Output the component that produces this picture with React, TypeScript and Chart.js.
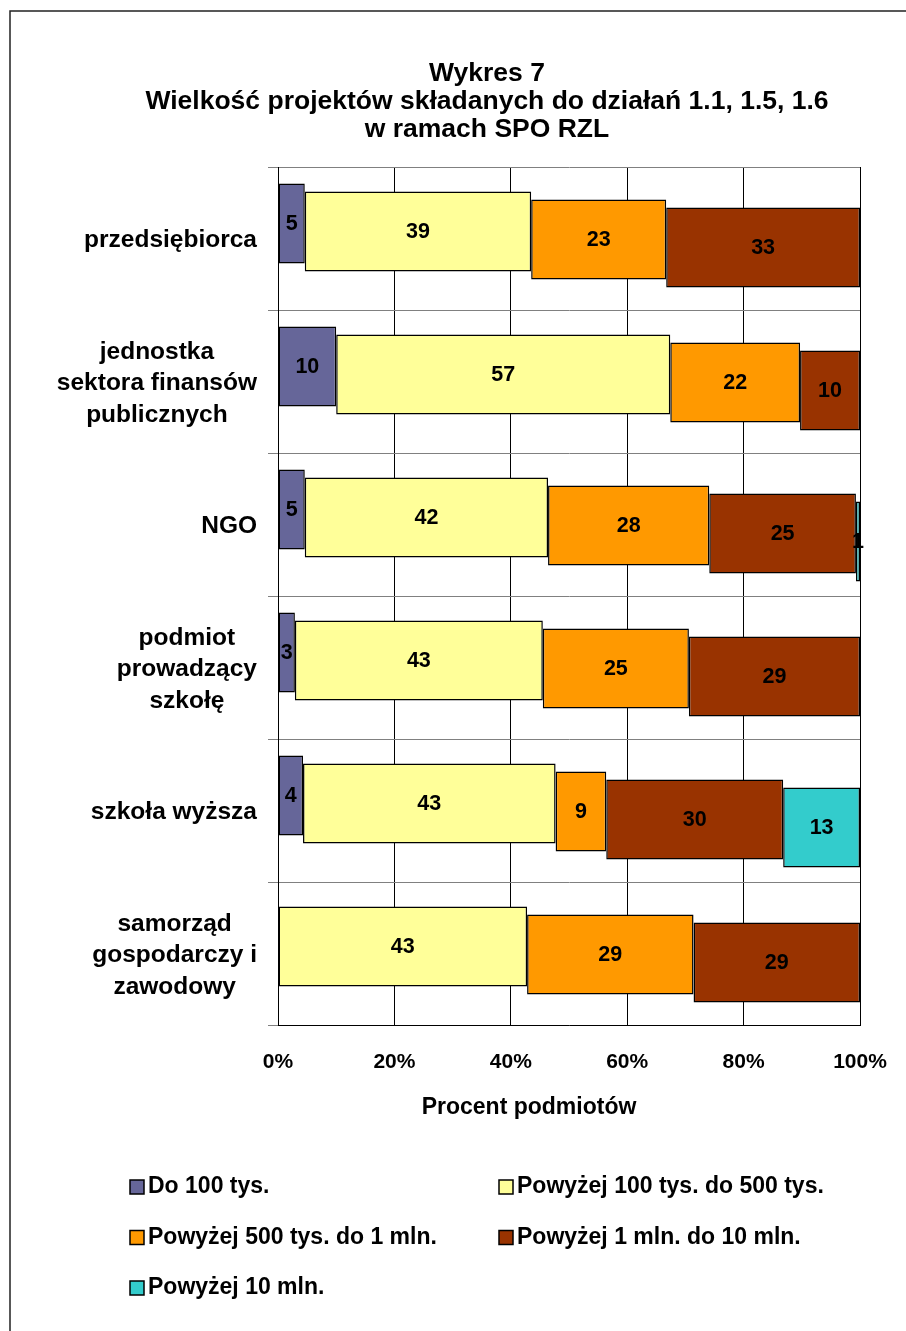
import React, { useEffect, useRef } from 'react';
import { Chart, registerables } from 'chart.js';

Chart.register(...registerables);

const FONT = '"Liberation Sans", Arial, Helvetica, sans-serif';

const TITLE_LINES = [
  'Wykres 7',
  'Wielkość projektów składanych do działań 1.1, 1.5, 1.6',
  'w ramach SPO RZL',
];
const CATEGORIES = [
  ['przedsiębiorca'],
  ['jednostka', 'sektora finansów', 'publicznych'],
  ['NGO'],
  ['podmiot', 'prowadzący', 'szkołę'],
  ['szkoła wyższa'],
  ['samorząd', 'gospodarczy i', 'zawodowy'],
];
const SERIES_NAMES = [
  'Do 100 tys.',
  'Powyżej 100 tys. do 500 tys.',
  'Powyżej 500 tys. do 1 mln.',
  'Powyżej 1 mln. do 10 mln.',
  'Powyżej 10 mln.',
];
const SERIES_COLORS = ['#666699', '#FFFF99', '#FF9900', '#993300', '#33CCCC'];

const DO_100 = [4.6, 10.0, 4.6, 2.9, 4.3, 0];
const OD_100_DO_500 = [38.9, 57.4, 41.8, 42.6, 43.4, 42.8];
const OD_500_DO_1M = [23.2, 22.3, 27.7, 25.1, 8.7, 28.6];
const OD_1M_DO_10M = [33.3, 10.3, 25.2, 29.4, 30.4, 28.6];
const POWYZEJ_10M = [0, 0, 0.7, 0, 13.2, 0];

const X_TICKS = [0, 20, 40, 60, 80, 100];
const X_TITLE = 'Procent podmiotów';

const SERIES = [DO_100, OD_100_DO_500, OD_500_DO_1M, OD_1M_DO_10M, POWYZEJ_10M];

function drawText(ctx: CanvasRenderingContext2D, text: string, x: number, y: number, size: number, align: CanvasTextAlign, sx = 1) {
  ctx.save();
  ctx.font = `bold ${size}px ${FONT}`;
  ctx.fillStyle = '#000';
  ctx.textBaseline = 'middle';
  ctx.textAlign = align;
  ctx.translate(x, y);
  ctx.scale(sx, 1);
  ctx.fillText(text, 0, 0);
  ctx.restore();
}

const backgroundPlugin = {
  id: 'bgFrame',
  beforeDraw(chart: any) {
    const ctx = chart.ctx as CanvasRenderingContext2D;
    ctx.save();
    ctx.fillStyle = '#fff';
    ctx.fillRect(0, 0, chart.width, chart.height);
    ctx.strokeStyle = '#222';
    ctx.lineWidth = 1.5;
    ctx.beginPath();
    ctx.moveTo(10, chart.height + 5);
    ctx.lineTo(10, 11);
    ctx.lineTo(chart.width + 5, 11);
    ctx.stroke();
    ctx.restore();
  },
};

const staggerPlugin = {
  id: 'stagger',
  afterDatasetsUpdate(chart: any) {
    chart.data.datasets.forEach((_ds: any, i: number) => {
      const meta = chart.getDatasetMeta(i);
      meta.data.forEach((el: any) => {
        el.y = el.y + (i - 2) * 8 + 1;
      });
    });
  },
};

const labelsPlugin = {
  id: 'valueLabels',
  afterDatasetsDraw(chart: any) {
    const ctx = chart.ctx as CanvasRenderingContext2D;
    chart.data.datasets.forEach((_ds: any, i: number) => {
      const meta = chart.getDatasetMeta(i);
      meta.data.forEach((el: any, j: number) => {
        const raw = SERIES[i][j];
        if (!raw) return;
        const { x, base, y } = el.getProps(['x', 'base', 'y'], true);
        drawText(ctx, String(Math.round(raw)), (x + base) / 2, y + 1, 21.5, 'center');
      });
    });
  },
};

const textPlugin = {
  id: 'texts',
  afterDraw(chart: any) {
    const ctx = chart.ctx as CanvasRenderingContext2D;
    // title
    const titleY = [74, 102, 130];
    TITLE_LINES.forEach((t, i) => drawText(ctx, t, 487, titleY[i], 26.5, 'center'));
    // y category labels
    const yScale = chart.scales.y;
    const right = yScale.right - 21;
    const lh = 31.5;
    ctx.save();
    ctx.font = `bold 24.5px ${FONT}`;
    CATEGORIES.forEach((lines, i) => {
      const cy = yScale.getPixelForValue(i) + 2;
      const maxW = Math.max(...lines.map((l) => ctx.measureText(l).width));
      const cx = right - maxW / 2;
      lines.forEach((l, k) => {
        drawText(ctx, l, cx, cy + (k - (lines.length - 1) / 2) * lh, 24.5, 'center');
      });
    });
    ctx.restore();
    // x axis title
    drawText(ctx, X_TITLE, 529, 1108, 23, 'center');
    // legend
    const colX = [130, 499];
    const rowY = [1187, 1237.5, 1288];
    chart.data.datasets.forEach((ds: any, i: number) => {
      const x = colX[i % 2];
      const y = rowY[Math.floor(i / 2)];
      ctx.save();
      ctx.fillStyle = ds.backgroundColor;
      ctx.fillRect(x, y - 7, 14, 14);
      ctx.strokeStyle = '#000';
      ctx.lineWidth = 1.5;
      ctx.strokeRect(x, y - 7, 14, 14);
      ctx.restore();
      drawText(ctx, ds.label, x + 18, y, 23, 'left');
    });
  },
};

export default function App() {
  const canvasRef = useRef<HTMLCanvasElement | null>(null);

  useEffect(() => {
    const canvas = canvasRef.current;
    if (!canvas) return;
    const totals = CATEGORIES.map((_, j) => SERIES.reduce((s, arr) => s + arr[j], 0));
    const datasets = SERIES.map((arr, i) => ({
      label: SERIES_NAMES[i],
      data: arr.map((v, j) => (v > 0 ? (v / totals[j]) * 100 : null)),
      backgroundColor: SERIES_COLORS[i],
      borderColor: '#000',
      borderWidth: 1.5,
      borderSkipped: false,
      categoryPercentage: 0.56,
      barPercentage: 1,
    }));
    const chart = new Chart(canvas, {
      type: 'bar',
      data: { labels: CATEGORIES.map((c) => c.join(' ')), datasets: datasets as any },
      options: {
        indexAxis: 'y',
        responsive: false,
        animation: false,
        layout: { padding: { top: 167, right: 46, bottom: 0, left: 0 } },
        plugins: {
          legend: { display: false },
          title: { display: false },
          tooltip: { enabled: false },
        },
        scales: {
          x: {
            type: 'linear',
            stacked: true,
            min: 0,
            max: 100,
            afterFit: (s: any) => {
              s.height = 306;
              s.paddingLeft = 0;
              s.paddingRight = 0;
            },
            afterBuildTicks: (s: any) => {
              s.ticks = X_TICKS.map((v) => ({ value: v }));
            },
            ticks: {
              callback: (v: any) => v + '%',
              color: '#000',
              font: { family: FONT, size: 21, weight: 'bold' },
              padding: 25,
              maxRotation: 0,
            },
            grid: { color: '#000', drawTicks: false, lineWidth: 1 },
            border: { color: '#000', width: 1 },
          },
          y: {
            type: 'category',
            stacked: true,
            afterFit: (s: any) => {
              s.width = 278;
            },
            ticks: { display: false },
            grid: { color: '#808080', tickLength: 10, offset: true, drawTicks: true, lineWidth: 1 },
            border: { color: '#000', width: 1 },
          },
        },
      } as any,
      plugins: [backgroundPlugin, staggerPlugin, labelsPlugin, textPlugin],
    });
    return () => chart.destroy();
  }, []);

  return (
    <div style={{ position: 'absolute', left: 0, top: 0, width: 906, height: 1331 }}>
      <canvas ref={canvasRef} width={906} height={1331} style={{ display: 'block' }} />
    </div>
  );
}
